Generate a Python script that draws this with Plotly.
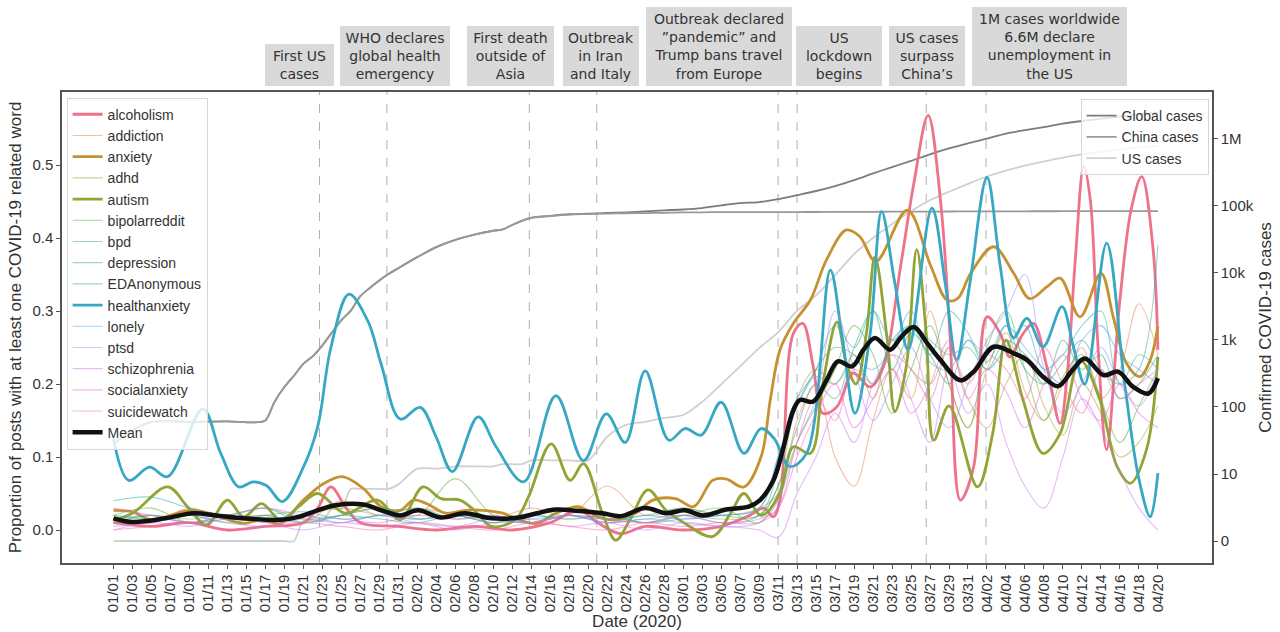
import pandas as pd
import plotly.graph_objects as go

BASE = pd.Timestamp("2020-01-01")


def to_dates(days):
    return [BASE + pd.Timedelta(days=float(d)) for d in days]


# ---------------- data: thick subreddit lines (day offset from 01/01, proportion) -------------
ALC_X = [0, 4, 8, 12, 16, 20, 21.5, 22.9, 24.5, 26, 30, 34, 38, 42, 46, 49, 51, 53.4, 56, 60, 64, 67,
         68.5, 69.5, 70.2, 71.6, 72.6, 73.7, 74.7, 76.2, 77.9, 79.7, 81.1, 82.9, 84.3, 85.8, 87.1, 88.1,
         89.2, 90.6, 92, 93.4, 94.4, 95.8, 96.9, 98.3, 99.7, 100.5, 101.3, 102.2, 102.9, 103.7, 104.6,
         106, 107.2, 108.3, 109.5, 110]
ALC_Y = [0.01, 0.005, 0.01, 0.0, 0.005, 0.01, 0.03, 0.059, 0.03, 0.01, 0.005, 0.0, 0.005, 0.0, 0.01,
         0.027, 0.01, -0.005, 0.005, 0.0, 0.005, 0.02, 0.03, 0.018, 0.041, 0.269, 0.283, 0.224, 0.16,
         0.169, 0.215, 0.196, 0.224, 0.361, 0.475, 0.568, 0.452, 0.269, 0.041, 0.087, 0.292, 0.269,
         0.237, 0.269, 0.283, 0.224, 0.146, 0.22, 0.37, 0.498, 0.45, 0.25, 0.11, 0.315, 0.44, 0.484,
         0.384, 0.247]

ANX_X = [0, 2, 4, 8, 10, 13.7, 15.5, 17.6, 20, 22.2, 24.1, 26.3, 28.2, 30.2, 31.6, 33, 35, 37, 38.9,
         41, 42.7, 44.6, 46.6, 49, 51, 52.9, 55, 56.8, 59.2, 61.1, 63.1, 64.5, 66.4, 68.2, 69.2, 70.2,
         71.6, 73.4, 75.1, 77.2, 78.6, 80.3, 83.6, 86.1, 87.8, 88.9, 90.3, 92.7, 94.8, 96.5, 98.3,
         99.7, 101.8, 104, 105.3, 106.7, 108.1, 109.2, 110]
ANX_Y = [0.027, 0.025, 0.014, 0.027, 0.023, 0.009, 0.014, 0.009, 0.041, 0.064, 0.073, 0.057, 0.032,
         0.027, 0.041, 0.036, 0.023, 0.027, 0.027, 0.023, 0.014, 0.009, 0.023, 0.032, 0.018, 0.014,
         0.023, 0.041, 0.043, 0.032, 0.068, 0.07, 0.059, 0.1, 0.18, 0.247, 0.283, 0.315, 0.37, 0.411,
         0.402, 0.368, 0.438, 0.361, 0.315, 0.317, 0.352, 0.388, 0.352, 0.317, 0.333, 0.345, 0.292,
         0.352, 0.292, 0.228, 0.21, 0.233, 0.279]

AUT_X = [0, 2, 5.7, 7.8, 9.8, 12, 13.7, 15.6, 17.6, 19.5, 21.5, 24.4, 27.8, 30.2, 32.6, 34.5, 36.5, 38,
         39.8, 42.3, 43.7, 46.1, 48.1, 49.5, 51.5, 52.9, 54.4, 56.3, 58.2, 60.2, 63.1, 65, 66.4, 68.2,
         70.2, 71.6, 73.4, 74.7, 76.2, 77.2, 78.2, 79.3, 80.2, 81.5, 82.3, 83.5, 84.6, 85.6, 86.4, 88,
         91, 92.6, 94, 95.8, 97.9, 99.7, 101.8, 103.9, 105.7, 107.1, 108.8, 110]
AUT_Y = [0.014, 0.023, 0.059, 0.032, 0.007, 0.041, 0.018, 0.036, 0.014, 0.032, 0.05, 0.023, 0.041,
         0.014, 0.059, 0.043, 0.041, 0.027, 0.005, 0.014, 0.045, 0.118, 0.068, 0.091, 0.023, -0.014,
         0.014, 0.055, 0.027, 0.009, -0.009, 0.023, 0.05, 0.02, 0.05, 0.114, 0.105, 0.2, 0.285, 0.228,
         0.2, 0.269, 0.374, 0.26, 0.162, 0.224, 0.384, 0.269, 0.123, 0.17, 0.059, 0.132, 0.26, 0.178,
         0.105, 0.132, 0.233, 0.178, 0.087, 0.064, 0.11, 0.237]

HEA_X = [0, 1.6, 3.8, 5.7, 9.4, 11.3, 13.2, 14.7, 16.1, 17.8, 20, 21.5, 22.9, 24.8, 26.8, 28.2, 30.2,
         32.3, 34, 35.7, 38.4, 40.3, 43.2, 46.6, 49.5, 51.9, 53.9, 56, 58.5, 60.2, 61.9, 64, 66.4, 68.2,
         69.6, 71.2, 73, 75.5, 76.7, 78.1, 79.7, 80.9, 82.3, 83.7, 86.2, 87.6, 88.8, 90.2, 92, 93.4,
         94.8, 96.2, 97.9, 99.9, 101.1, 102.3, 104.6, 106.5, 108, 109.2, 110]
HEA_Y = [0.125, 0.068, 0.086, 0.073, 0.166, 0.105, 0.059, 0.066, 0.061, 0.039, 0.086, 0.141, 0.25,
         0.323, 0.286, 0.227, 0.152, 0.168, 0.127, 0.08, 0.155, 0.114, 0.066, 0.184, 0.095, 0.159, 0.12,
         0.218, 0.123, 0.139, 0.13, 0.175, 0.105, 0.139, 0.125, 0.087, 0.105, 0.356, 0.269, 0.16, 0.269,
         0.436, 0.338, 0.247, 0.441, 0.338, 0.233, 0.338, 0.483, 0.361, 0.263, 0.29, 0.251, 0.306,
         0.251, 0.2, 0.393, 0.2, 0.07, 0.018, 0.078]

MEAN_X = [0, 2, 5.5, 8.4, 10.8, 13.7, 17.6, 19.5, 21.5, 23.4, 26.3, 28.2, 30.2, 32.1, 34.5, 37, 39.8,
          42.7, 44.6, 46.6, 49, 51.5, 53.4, 56, 58.2, 60.2, 62.1, 64.5, 66.9, 68.1, 69.5, 70.5, 71.6,
          72.3, 73.7, 75.1, 76.3, 77.8, 79, 80.2, 81.8, 83, 84.3, 85.7, 87.1, 89.2, 90.6, 92.7, 94.8,
          96.2, 97.9, 99.5, 101, 102.3, 104.3, 105.8, 107.4, 109, 110]
MEAN_Y = [0.016, 0.011, 0.016, 0.023, 0.02, 0.016, 0.014, 0.018, 0.027, 0.034, 0.035, 0.027, 0.02,
          0.027, 0.017, 0.023, 0.016, 0.017, 0.023, 0.028, 0.026, 0.023, 0.019, 0.03, 0.023, 0.027,
          0.02, 0.028, 0.032, 0.041, 0.068, 0.11, 0.164, 0.178, 0.176, 0.205, 0.231, 0.224, 0.247,
          0.263, 0.247, 0.265, 0.278, 0.256, 0.233, 0.205, 0.217, 0.251, 0.242, 0.233, 0.21, 0.197,
          0.219, 0.235, 0.212, 0.217, 0.196, 0.187, 0.208]

# ---------------- data: thin subreddit lines on a common day grid -------------
THIN_X = [0, 4, 8, 12, 16, 20, 24, 28, 32, 36, 40, 44, 48, 52, 56, 60, 64, 68,
          70, 72, 74, 76, 78, 80, 82, 84, 86, 88, 90, 92, 94, 96, 98, 100, 102, 104, 106, 108, 110]
ADDICTION = [0.02, 0.01, 0.03, 0.015, 0.02, 0.01, 0.04, 0.02, 0.03, 0.02, 0.015, 0.03, 0.02, 0.06, 0.02,
             0.03, 0.02, 0.03, 0.05, 0.15, 0.2, 0.1, 0.06, 0.15, 0.22, 0.18, 0.3, 0.2, 0.14, 0.22, 0.27,
             0.19, 0.15, 0.2, 0.25, 0.18, 0.22, 0.31, 0.24]
ADHD = [0.01, 0.02, 0.015, 0.02, 0.01, 0.02, 0.03, 0.02, 0.015, 0.02, 0.01, 0.02, 0.015, 0.02, 0.01,
        0.02, 0.015, 0.02, 0.06, 0.18, 0.22, 0.2, 0.24, 0.18, 0.26, 0.22, 0.2, 0.25, 0.18, 0.14, 0.2,
        0.24, 0.17, 0.13, 0.2, 0.16, 0.1, 0.12, 0.17]
BIPOLAR = [0.02, 0.03, 0.01, 0.02, 0.03, 0.015, 0.02, 0.03, 0.02, 0.07, 0.02, 0.01, 0.03, 0.02, 0.01,
           0.02, 0.03, 0.01, 0.05, 0.12, 0.17, 0.22, 0.28, 0.24, 0.16, 0.22, 0.28, 0.2, 0.14, 0.25, 0.3,
           0.22, 0.15, 0.21, 0.24, 0.18, 0.12, 0.17, 0.22]
BPD = [0.02, 0.015, 0.02, 0.01, 0.02, 0.025, 0.015, 0.02, 0.03, 0.015, 0.02, 0.01, 0.02, 0.015, 0.02,
       0.03, 0.02, 0.02, 0.06, 0.14, 0.2, 0.18, 0.25, 0.3, 0.22, 0.27, 0.24, 0.2, 0.26, 0.23, 0.28, 0.22,
       0.2, 0.26, 0.22, 0.24, 0.18, 0.2, 0.24]
DEPRESSION = [0.01, 0.02, 0.01, 0.015, 0.02, 0.01, 0.02, 0.015, 0.01, 0.02, 0.015, 0.01, 0.02, 0.01,
              0.015, 0.02, 0.01, 0.02, 0.08, 0.17, 0.22, 0.25, 0.24, 0.2, 0.26, 0.28, 0.26, 0.24, 0.25,
              0.22, 0.26, 0.24, 0.2, 0.23, 0.26, 0.22, 0.2, 0.24, 0.22]
EDANON = [0.04, 0.045, 0.03, 0.02, 0.03, 0.01, 0.02, 0.03, 0.015, 0.02, 0.01, 0.02, 0.015, 0.02, 0.01,
          0.015, 0.02, 0.03, 0.1, 0.17, 0.22, 0.28, 0.25, 0.3, 0.26, 0.28, 0.24, 0.3, 0.27, 0.22, 0.25,
          0.28, 0.22, 0.24, 0.28, 0.3, 0.2, 0.22, 0.39]
LONELY = [0.015, 0.02, 0.01, 0.02, 0.015, 0.02, 0.01, 0.02, 0.015, 0.02, 0.01, 0.015, 0.02, 0.01, 0.02,
          0.015, 0.02, 0.03, 0.1, 0.18, 0.21, 0.2, 0.23, 0.22, 0.25, 0.3, 0.23, 0.22, 0.26, 0.24, 0.28,
          0.25, 0.22, 0.2, 0.26, 0.28, 0.24, 0.22, 0.2]
PTSD = [0.005, 0.01, 0.02, 0.01, 0.005, 0.015, 0.01, 0.02, 0.01, 0.005, 0.015, 0.01, 0.02, 0.01, 0.015,
        0.01, 0.005, 0.01, 0.04, 0.12, 0.18, 0.3, 0.22, 0.15, 0.2, 0.25, 0.18, 0.14, 0.2, 0.26, 0.3, 0.35,
        0.22, 0.16, 0.2, 0.25, 0.2, 0.17, 0.22]
SCHIZO = [0.0, 0.01, 0.005, 0.015, 0.01, 0.0, 0.01, 0.005, 0.01, 0.0, 0.01, 0.015, 0.005, 0.01, 0.0,
          0.01, 0.005, 0.0, -0.01, 0.05, 0.1, 0.16, 0.12, 0.2, 0.24, 0.18, 0.12, 0.22, 0.16, 0.2, 0.12,
          0.06, 0.03, 0.1, 0.18, 0.14, 0.08, 0.03, 0.0]
SOCIAL = [0.03, 0.02, 0.01, 0.02, 0.03, 0.02, 0.015, 0.01, 0.02, 0.015, 0.02, 0.01, 0.02, 0.015, 0.01,
          0.02, 0.01, 0.015, 0.03, 0.1, 0.16, 0.2, 0.14, 0.18, 0.22, 0.16, 0.2, 0.26, 0.18, 0.22, 0.19,
          0.14, 0.2, 0.24, 0.18, 0.15, 0.2, 0.16, 0.14]
SUICIDE = [0.0, 0.005, 0.01, 0.0, 0.005, 0.01, 0.005, 0.0, 0.01, 0.005, 0.0, 0.01, 0.005, 0.0, 0.01,
           0.005, 0.01, 0.01, 0.03, 0.12, 0.18, 0.15, 0.22, 0.2, 0.24, 0.22, 0.18, 0.25, 0.2, 0.24, 0.22,
           0.18, 0.25, 0.2, 0.16, 0.22, 0.18, 0.2, 0.22]

# ---------------- data: confirmed cases -------------
CASE_X = [0, 2, 4, 8, 12, 15, 16, 17, 18, 19, 20, 21, 22, 23, 24, 25, 26, 27, 28, 29, 30, 32, 34, 36,
          38, 40, 41, 42, 43, 44, 46, 48, 50, 52, 54, 56, 58, 60, 62, 64, 66, 68, 70, 72, 74, 76, 78,
          80, 82, 84, 86, 88, 90, 92, 94, 96, 98, 100, 102, 104, 106, 108, 110]
GLOBAL = [27, 44, 59, 59, 60, 58, 62, 121, 198, 291, 440, 571, 830, 1287, 1975, 2744, 4515, 5974,
          7711, 9692, 11791, 17205, 24324, 31161, 37198, 42638, 44653, 52000, 60000, 66500, 71200,
          75200, 76800, 78600, 80400, 83000, 86000, 88500, 93000, 101800, 110000, 114000, 126000,
          145000, 167000, 198000, 243000, 305000, 380000, 470000, 590000, 720000, 860000, 1010000,
          1200000, 1350000, 1500000, 1690000, 1850000, 2000000, 2160000, 2330000, 2470000]
CHINA = [27, 44, 59, 59, 60, 58, 62, 121, 198, 291, 440, 571, 830, 1287, 1975, 2744, 4515, 5974,
         7711, 9692, 11791, 17205, 24324, 31161, 37198, 42638, 44653, 52000, 60000, 66500, 70500,
         74200, 75600, 76900, 77700, 78200, 78900, 79900, 80400, 80700, 80900, 81000, 81000, 81100,
         81200, 81400, 81600, 81800, 82000, 82200, 82400, 82600, 82900, 83000, 83100, 83200, 83300,
         83400, 83500, 83600, 83700, 83750, 83800]
US = [0, 0, 0, 0, 0, 0, 0, 0, 0, 0, 1, 1, 1, 2, 2, 5, 5, 5, 5, 5, 6, 11, 11, 12, 12, 12, 13, 13, 13,
      15, 15, 15, 15, 35, 53, 59, 68, 75, 118, 217, 402, 755, 1301, 2727, 4632, 9265, 19100, 33200,
      53900, 83800, 121500, 163000, 214000, 275000, 337000, 398000, 461000, 526000, 586000, 640000,
      694000, 744000, 784000]

CASE_TICKS = [1, 10, 100, 1000, 10000, 100000, 1000000]
CASE_TICK_TEXT = ["0", "10", "100", "1k", "10k", "100k", "1M"]
PROP_TICKS = [0, 0.1, 0.2, 0.3, 0.4, 0.5]
PROP_TICK_TEXT = ["0.0", "0.1", "0.2", "0.3", "0.4", "0.5"]
DATE_TICK_DAYS = list(range(0, 111, 2))

EVENT_DAYS = [21.7, 28.8, 43.8, 50.9, 70.0, 72.0, 85.6, 91.9]
EVENT_TEXT = ["First US<br>cases",
              "WHO declares<br>global health<br>emergency",
              "First death<br>outside of<br>Asia",
              "Outbreak<br>in Iran<br>and Italy",
              "Outbreak declared<br>\u201dpandemic\u201d and<br>Trump bans travel<br>from Europe",
              "US<br>lockdown<br>begins",
              "US cases<br>surpass<br>China\u2019s",
              "1M cases worldwide<br>6.6M declare<br>unemployment in<br>the US"]
# label box centres / widths in pixels (layout only)
BOX_CX = [299.5, 395, 510, 601, 719, 839, 927, 1049.5]
BOX_W = [69, 110, 87, 76, 146, 86, 76, 155]

# ---------------- figure -------------
L, R, T, B = 62, 68, 92, 69
W, H = 1280, 632
PW, PH = W - L - R, H - T - B


def px_x(p):
    return (p - L) / PW


fig = go.Figure()

case_series = [("Global cases", GLOBAL, "#7c7c7c"),
               ("China cases", CHINA, "#999999"),
               ("US cases", US, "#d0d0d0")]
for name, vals, col in case_series:
    fig.add_trace(go.Scatter(
        x=to_dates(CASE_X), y=[v + 1 for v in vals], name=name, mode="lines",
        line=dict(color=col, width=1.8, shape="spline", smoothing=0.8),
        yaxis="y", legend="legend2"))

series = [
    ("alcoholism", ALC_X, ALC_Y, "#f0718a", 2.8, 1.0),
    ("addiction", THIN_X, ADDICTION, "#ec8150", 1.1, 0.5),
    ("anxiety", ANX_X, ANX_Y, "#c8912f", 2.8, 1.0),
    ("adhd", THIN_X, ADHD, "#ae9d31", 1.1, 0.5),
    ("autism", AUT_X, AUT_Y, "#93a433", 2.8, 1.0),
    ("bipolarreddit", THIN_X, BIPOLAR, "#55ae33", 1.1, 0.5),
    ("bpd", THIN_X, BPD, "#33b07a", 1.1, 0.5),
    ("depression", THIN_X, DEPRESSION, "#35ae96", 1.1, 0.5),
    ("EDAnonymous", THIN_X, EDANON, "#37abb1", 1.1, 0.5),
    ("healthanxiety", HEA_X, HEA_Y, "#36a8c3", 2.8, 1.0),
    ("lonely", THIN_X, LONELY, "#4ea2e8", 1.1, 0.5),
    ("ptsd", THIN_X, PTSD, "#a48cf4", 1.1, 0.5),
    ("schizophrenia", THIN_X, SCHIZO, "#cc7af4", 1.1, 0.5),
    ("socialanxiety", THIN_X, SOCIAL, "#ec69de", 1.1, 0.5),
    ("suicidewatch", THIN_X, SUICIDE, "#f66bb0", 1.1, 0.5),
]
for name, xs, ys, col, lw, op in series:
    fig.add_trace(go.Scatter(
        x=to_dates(xs), y=ys, name=name, mode="lines", opacity=op,
        line=dict(color=col, width=lw, shape="spline", smoothing=1.0),
        yaxis="y2", legend="legend"))

fig.add_trace(go.Scatter(
    x=to_dates(MEAN_X), y=MEAN_Y, name="Mean", mode="lines",
    line=dict(color="#111111", width=4.5, shape="spline", smoothing=1.0),
    yaxis="y2", legend="legend"))

shapes = []
for d in EVENT_DAYS:
    dd = to_dates([d])[0]
    shapes.append(dict(type="line", xref="x", yref="paper", x0=dd, x1=dd, y0=0, y1=1,
                       line=dict(color="#b0b0b0", width=1, dash="dash"), layer="below"))

annotations = []
pad = 4
y_box = 1 + 6 / PH
for txt, cx, bw in zip(EVENT_TEXT, BOX_CX, BOX_W):
    annotations.append(dict(
        text=txt, xref="paper", yref="paper", x=px_x(cx), y=y_box,
        xanchor="center", yanchor="bottom", showarrow=False,
        bgcolor="#d9d9d9", borderpad=pad, borderwidth=0, width=bw - 2 * pad,
        align="center", font=dict(family="DejaVu Sans", size=14, color="#333333")))

FONT = "Liberation Sans, Arial"
axis_line = dict(showline=True, linecolor="#555555", linewidth=1.5, ticks="outside",
                 ticklen=4, tickcolor="#555555", showgrid=False, zeroline=False, automargin=False)

x_left = BASE + pd.Timedelta(days=-5.42)
x_right = BASE + pd.Timedelta(days=115.7)

fig.update_layout(
    width=W, height=H,
    margin=dict(l=L, r=R, t=T, b=B, autoexpand=False),
    paper_bgcolor="white", plot_bgcolor="white",
    font=dict(family=FONT, size=14, color="#333333"),
    xaxis=dict(range=[x_left, x_right], type="date", tickvals=to_dates(DATE_TICK_DAYS),
               tickformat="%m/%d", tickangle=-90,
               tickfont=dict(family=FONT, size=15, color="#333333"), mirror=True,
               title=dict(text="Date (2020)", font=dict(family=FONT, size=17, color="#333333"),
                          standoff=2),
               **axis_line),
    yaxis=dict(type="log", side="right", range=[-0.328, 6.70], tickvals=CASE_TICKS,
               ticktext=CASE_TICK_TEXT, tickfont=dict(family=FONT, size=15, color="#333333"),
               title=dict(text="Confirmed COVID-19 cases",
                          font=dict(family=FONT, size=17, color="#333333"), standoff=6),
               **axis_line),
    yaxis2=dict(overlaying="y", side="left", range=[-0.0452, 0.600],
                tickvals=PROP_TICKS, ticktext=PROP_TICK_TEXT,
                tickfont=dict(family=FONT, size=15, color="#333333"),
                title=dict(text="Proportion of posts with at least one COVID-19 related word",
                           font=dict(family=FONT, size=17, color="#333333"), standoff=6),
                **axis_line),
    legend=dict(x=0.004, y=0.988, xanchor="left", yanchor="top",
                bgcolor="rgba(255,255,255,0.8)", bordercolor="#d6d6d6", borderwidth=1,
                font=dict(family=FONT, size=14, color="#333333"),
                itemwidth=30, tracegroupgap=0),
    legend2=dict(x=0.997, y=0.985, xanchor="right", yanchor="top",
                 bgcolor="rgba(255,255,255,0.8)", bordercolor="#d6d6d6", borderwidth=1,
                 font=dict(family=FONT, size=14, color="#333333"),
                 itemwidth=30),
    shapes=shapes,
    annotations=annotations,
    showlegend=True,
)

# remove the browser's default 8px page margin so the 1280x632 figure fills the window
fig.write_html("out.html", config={"displayModeBar": False},
               post_script="document.body.style.margin='0';")
